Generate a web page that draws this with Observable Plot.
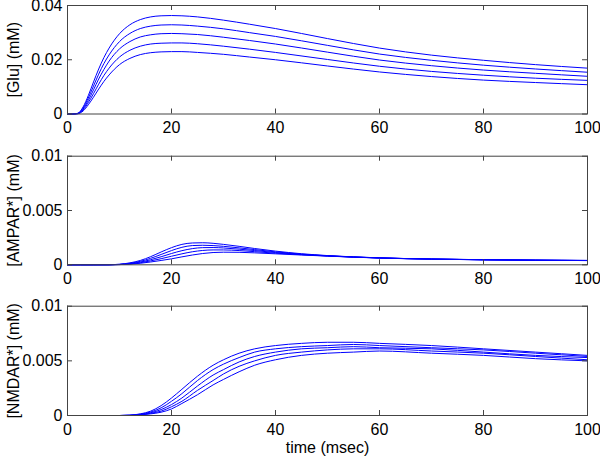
<!DOCTYPE html>
<html>
<head>
<meta charset="utf-8">
<script src="https://cdn.jsdelivr.net/npm/d3@7"></script>
<script src="https://cdn.jsdelivr.net/npm/@observablehq/plot@0.6"></script>
<style>
  html, body { margin: 0; padding: 0; background: #fff; }
  #chart { width: 600px; }
  #chart svg { display: block; }
  #chart svg text { font-size: 16px !important; font-family: 'Liberation Sans', Arial, Helvetica, sans-serif !important; }
</style>
</head>
<body>
<div id="chart"></div>
<script>
// ---------- data ----------
const xTicks = [0, 20, 40, 60, 80, 100];

// Panel 1: [Glu] (mM)
const gluTime = [0,1,2,3,4,5,6,7,8,10,12,14,16,18,20,22,25,30,35,40,50,60,70,80,90,100];
const glu1 = [0,0,0.0003,0.0026,0.0068,0.0118,0.0166,0.0208,0.0243,0.0296,0.0329,0.0348,0.0358,0.0362,0.0363,0.0362,0.0358,0.0346,0.0331,0.0315,0.0278,0.0243,0.0217,0.0198,0.0182,0.0169];
const glu2 = [0,0,0.0002,0.0022,0.0059,0.0103,0.0147,0.0186,0.0218,0.0267,0.0297,0.0315,0.0324,0.0328,0.0329,0.0328,0.0324,0.0314,0.0300,0.0286,0.0253,0.0221,0.0198,0.0180,0.0166,0.0154];
const glu3 = [0,0,0.0002,0.0018,0.0050,0.0089,0.0129,0.0164,0.0195,0.0240,0.0267,0.0284,0.0292,0.0296,0.0297,0.0296,0.0293,0.0283,0.0271,0.0258,0.0228,0.0199,0.0178,0.0162,0.0150,0.0139];
const glu4 = [0,0,0.0001,0.0015,0.0042,0.0075,0.0110,0.0142,0.0169,0.0210,0.0235,0.0250,0.0258,0.0261,0.0262,0.0262,0.0259,0.0250,0.0239,0.0227,0.0201,0.0176,0.0157,0.0143,0.0132,0.0124];
const glu5 = [0,0,0.0001,0.0011,0.0034,0.0062,0.0092,0.0120,0.0144,0.0182,0.0205,0.0219,0.0226,0.0229,0.0230,0.0230,0.0227,0.0220,0.0210,0.0200,0.0177,0.0155,0.0138,0.0125,0.0116,0.0108];
const gluTicks = [0, 0.02, 0.04];
const gluTickLabels = ["0", "0.02", "0.04"];

// Panel 2: [AMPAR*] (mM)
const ampaTime = [0,5,8,10,12,14,16,18,20,22,24,26,28,30,33,36,40,45,50,60,70,80,90,100];
const ampa1 = [0,0,0.00001,0.00005,0.00018,0.00040,0.00075,0.00118,0.00158,0.00188,0.00201,0.00203,0.00198,0.00188,0.00170,0.00150,0.00126,0.00102,0.00085,0.00064,0.00053,0.00047,0.00043,0.00040];
const ampa2 = [0,0,0.00001,0.00004,0.00014,0.00032,0.00060,0.00095,0.00131,0.00161,0.00177,0.00180,0.00177,0.00170,0.00156,0.00140,0.00119,0.00098,0.00083,0.00064,0.00053,0.00047,0.00043,0.00040];
const ampa3 = [0,0,0,0.00003,0.00011,0.00025,0.00047,0.00074,0.00104,0.00130,0.00149,0.00158,0.00159,0.00155,0.00144,0.00131,0.00113,0.00095,0.00082,0.00063,0.00053,0.00046,0.00042,0.00040];
const ampa4 = [0,0,0,0.00002,0.00008,0.00019,0.00036,0.00056,0.00079,0.00101,0.00120,0.00132,0.00137,0.00137,0.00131,0.00121,0.00107,0.00093,0.00081,0.00063,0.00052,0.00046,0.00042,0.00039];
const ampa5 = [0,0,0,0.00002,0.00006,0.00014,0.00026,0.00040,0.00055,0.00073,0.00090,0.00104,0.00113,0.00116,0.00115,0.00110,0.00101,0.00090,0.00080,0.00062,0.00052,0.00046,0.00042,0.00039];
const recTicks = [0, 0.005, 0.01];
const recTickLabels = ["0", "0.005", "0.01"];

// Panel 3: [NMDAR*] (mM)
const nmdaTime = [0,10,12,14,16,18,20,22,25,28,30,33,36,40,45,50,55,60,70,80,90,100];
const nmda1 = [0,0,0.00003,0.00015,0.0004,0.0009,0.0016,0.0024,0.0036,0.0046,0.0051,0.0057,0.0061,0.0064,0.0066,0.0067,0.0067,0.0066,0.0064,0.0061,0.0058,0.0055];
const nmda2 = [0,0,0.00002,0.00012,0.00032,0.0007,0.0013,0.0020,0.0032,0.0042,0.0047,0.0053,0.0058,0.0061,0.0063,0.0064,0.0065,0.0064,0.0062,0.0060,0.0057,0.0054];
const nmda3 = [0,0,0.00002,0.00009,0.00025,0.00054,0.0010,0.0016,0.0027,0.0037,0.0042,0.0049,0.0054,0.0058,0.0061,0.0062,0.0063,0.0062,0.0061,0.0058,0.0055,0.0053];
const nmda4 = [0,0,0.00001,0.00007,0.0002,0.0004,0.0008,0.0013,0.0023,0.0032,0.0038,0.0045,0.0050,0.0055,0.0058,0.0060,0.0061,0.0061,0.0059,0.0057,0.0054,0.0051];
const nmda5 = [0,0,0.00001,0.00005,0.00015,0.0003,0.0006,0.0011,0.0019,0.0028,0.0033,0.0040,0.0046,0.0051,0.0055,0.0057,0.0058,0.0059,0.0057,0.0055,0.0052,0.0050];

// ---------- helpers ----------
function toRows(time, seriesList) {
  const rows = [];
  seriesList.forEach((s, k) => s.forEach((v, i) => rows.push({t: time[i], v, s: k})));
  return rows;
}

const FONT = "'Liberation Sans', Arial, Helvetica, sans-serif";
const LINE = "#0000ff";
const FRAME = "#444444";
const TICK = 5;

function panel({rows, yDomain, yTicks, yLabels, ylabel, height, mt, mb, xlabel}) {
  const ml = 67, mr = 13;
  const innerH = height - mt - mb;
  const innerW = 600 - ml - mr;
  const marks = [
    Plot.line(rows, {x: "t", y: "v", z: "s", stroke: LINE, strokeWidth: 1, curve: "monotone-x"}),
    // inward ticks, bottom and top
    Plot.ruleX(xTicks, {x: d => d, insetTop: innerH - TICK, stroke: FRAME}),
    Plot.ruleX(xTicks, {x: d => d, insetBottom: innerH - TICK, stroke: FRAME}),
    // inward ticks, left and right
    Plot.ruleY(yTicks, {y: d => d, insetRight: innerW - TICK, stroke: FRAME}),
    Plot.ruleY(yTicks, {y: d => d, insetLeft: innerW - TICK, stroke: FRAME}),
    Plot.frame({stroke: FRAME, strokeWidth: 1}),
    Plot.axisX(xTicks, {tickSize: 0, tickPadding: 8, fontSize: 16, tickFormat: d => String(d),
      label: xlabel, labelAnchor: "center", labelArrow: "none", labelOffset: 37}),
    Plot.axisY(yTicks, {tickSize: 0, tickPadding: 5, fontSize: 16, tickFormat: (d, i) => yLabels[i],
      label: ylabel, labelAnchor: "center", labelArrow: "none", labelOffset: 60})
  ];
  return Plot.plot({
    width: 600, height,
    marginLeft: ml, marginRight: mr, marginTop: mt, marginBottom: mb,
    style: {fontFamily: FONT, fontSize: "16px", color: "#000", background: "#fff", overflow: "visible"},
    x: {domain: [0, 100]},
    y: {domain: yDomain},
    marks
  });
}

const el = document.getElementById("chart");
el.appendChild(panel({
  rows: toRows(gluTime, [glu1, glu2, glu3, glu4, glu5]),
  yDomain: [0, 0.04], yTicks: gluTicks, yLabels: gluTickLabels,
  ylabel: "[Glu] (mM)", height: 150, mt: 5, mb: 36.5, xlabel: null
}));
el.appendChild(panel({
  rows: toRows(ampaTime, [ampa1, ampa2, ampa3, ampa4, ampa5]),
  yDomain: [0, 0.01], yTicks: recTicks, yLabels: recTickLabels,
  ylabel: "[AMPAR*] (mM)", height: 150, mt: 5.7, mb: 35.7, xlabel: null
}));
el.appendChild(panel({
  rows: toRows(nmdaTime, [nmda1, nmda2, nmda3, nmda4, nmda5]),
  yDomain: [0, 0.01], yTicks: recTicks, yLabels: recTickLabels,
  ylabel: "[NMDAR*] (mM)", height: 157, mt: 5.7, mb: 42, xlabel: "time (msec)"
}));
</script>
</body>
</html>
